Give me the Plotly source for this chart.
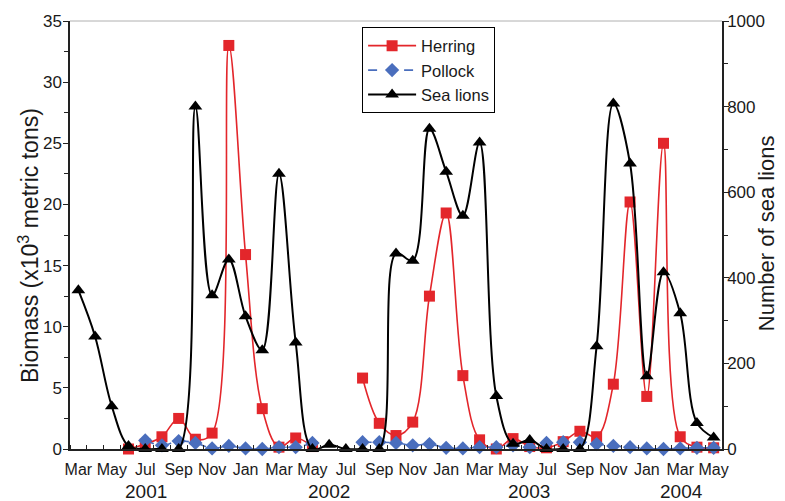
import plotly.graph_objects as go

# Month index 0 = Mar 2001 ... 38 = May 2004 (data plotted at month centres)
month_names = ["Mar", "Apr", "May", "Jun", "Jul", "Aug", "Sep", "Oct", "Nov", "Dec", "Jan", "Feb"]
n_months = 39
month_idx = list(range(n_months))

herring = [None, None, None, 0.0, 0.4, 1.0, 2.5, 0.8, 1.3, 33.0, 15.9, 3.3, 0.15, 0.9, 0.2,
           None, None, 5.8, 2.1, 1.1, 2.2, 12.5, 19.3, 6.0, 0.75, 0.0, 0.85, 0.2, 0.1, 0.6,
           1.45, 1.0, 5.3, 20.2, 4.3, 25.0, 1.0, 0.15, 0.1]
pollock = [None, None, None, None, 0.7, 0.3, 0.65, 0.5, 0.05, 0.25, 0.05, 0.0, 0.15, 0.15, 0.5,
           None, None, 0.55, 0.55, 0.5, 0.3, 0.4, 0.1, 0.05, 0.15, 0.15, 0.3, 0.15, 0.5, 0.55,
           0.55, 0.4, 0.25, 0.15, 0.05, 0.0, 0.05, 0.1, 0.1]
sea_lions = [371, 263, 100, 7, 0, 0, 0, 800, 359, 443, 310, 231, 643, 249, 0, 10, 0, 0, 0, 457,
             440, 748, 648, 545, 716, 124, 12, 21, 0, 0, 0, 240, 807, 667, 170, 413, 317, 61, 27]

year_labels = ["2001", "2002", "2003", "2004"]
year_pos = [4.55, 15.5, 27.45, 36.6]

x_centres = [m + 0.5 for m in month_idx]
tick_vals = [m + 0.5 for m in month_idx if m % 2 == 0]
tick_text = [month_names[m % 12] for m in month_idx if m % 2 == 0]

FONT = "Liberation Sans, Arial, Helvetica, sans-serif"
TXT = "#1a1a1a"

fig = go.Figure()
fig.add_trace(go.Scatter(
    x=x_centres, y=herring, name="Herring", mode="lines+markers",
    line=dict(color="#E3262B", width=1.6, shape="spline", smoothing=1),
    marker=dict(symbol="square", size=11, color="#E3262B"),
    connectgaps=False, cliponaxis=False))
fig.add_trace(go.Scatter(
    x=x_centres, y=pollock, name="Pollock", mode="lines+markers",
    line=dict(color="#4A6EBD", width=1.6, dash="dash", shape="spline", smoothing=1),
    marker=dict(symbol="diamond", size=11, color="#4A6EBD"),
    connectgaps=False, cliponaxis=False))
fig.add_trace(go.Scatter(
    x=x_centres, y=sea_lions, name="Sea lions", mode="lines+markers", yaxis="y2",
    line=dict(color="black", width=2, shape="spline", smoothing=1),
    marker=dict(symbol="triangle-up", size=12, color="black"),
    cliponaxis=False))

for lab, pos in zip(year_labels, year_pos):
    fig.add_annotation(x=pos, y=-0.1, xref="x", yref="paper", text=lab, showarrow=False,
                       font=dict(size=19, color=TXT, family=FONT), yanchor="middle")

fig.add_annotation(x=-0.064, y=0.475, xref="paper", yref="paper", textangle=-90,
                   text="Biomass (x10<sup>3</sup> metric tons)", showarrow=False,
                   font=dict(size=23, color=TXT, family=FONT), xanchor="center", yanchor="middle")
fig.add_annotation(x=1.0695, y=0.505, xref="paper", yref="paper", textangle=-90,
                   text="Number of sea lions", showarrow=False,
                   font=dict(size=22, color=TXT, family=FONT), xanchor="center", yanchor="middle")

fig.add_shape(type="line", xref="paper", yref="paper", x0=0, x1=1, y0=1, y1=1,
              line=dict(color="#b0b0b0", width=1))

fig.update_layout(
    width=785, height=501,
    margin=dict(l=70, r=63, t=19, b=52),
    paper_bgcolor="white", plot_bgcolor="white",
    font=dict(family=FONT, color=TXT),
    showlegend=True,
    legend=dict(x=0.448, y=0.985, xanchor="left", yanchor="top",
                bordercolor="black", borderwidth=1, bgcolor="white",
                font=dict(size=16.5, family=FONT, color=TXT),
                itemwidth=48, tracegroupgap=0),
    xaxis=dict(range=[0, n_months], tickmode="array", tickvals=tick_vals, ticktext=tick_text,
               ticks="", showgrid=False, zeroline=False, showline=True, linecolor="#222",
               linewidth=1.5, tickfont=dict(size=16, family=FONT, color=TXT),
               ticklabelstandoff=5,
               minor=dict(tickmode="array", tickvals=list(range(0, n_months + 1)),
                          ticks="inside", ticklen=4, tickcolor="#222", tickwidth=1)),
    yaxis=dict(range=[0, 35], tickmode="linear", tick0=0, dtick=5, ticks="outside",
               ticklen=5, tickcolor="#222", showgrid=False, zeroline=False, showline=True,
               linecolor="#222", linewidth=1.5, tickfont=dict(size=17, family=FONT, color=TXT),
               ticklabelstandoff=-2,
               minor=dict(dtick=2.5, ticks="outside", ticklen=4, tickcolor="#222")),
    yaxis2=dict(range=[0, 1000], overlaying="y", side="right", tickmode="linear", tick0=0,
                dtick=200, ticks="outside", ticklen=5, tickcolor="#222", showgrid=False,
                zeroline=False, showline=True, linecolor="#222", linewidth=1.5,
                tickfont=dict(size=17, family=FONT, color=TXT),
                ticklabelstandoff=-5,
                minor=dict(dtick=100, ticks="outside", ticklen=4, tickcolor="#222")),
)

fig.write_html("out.html")
